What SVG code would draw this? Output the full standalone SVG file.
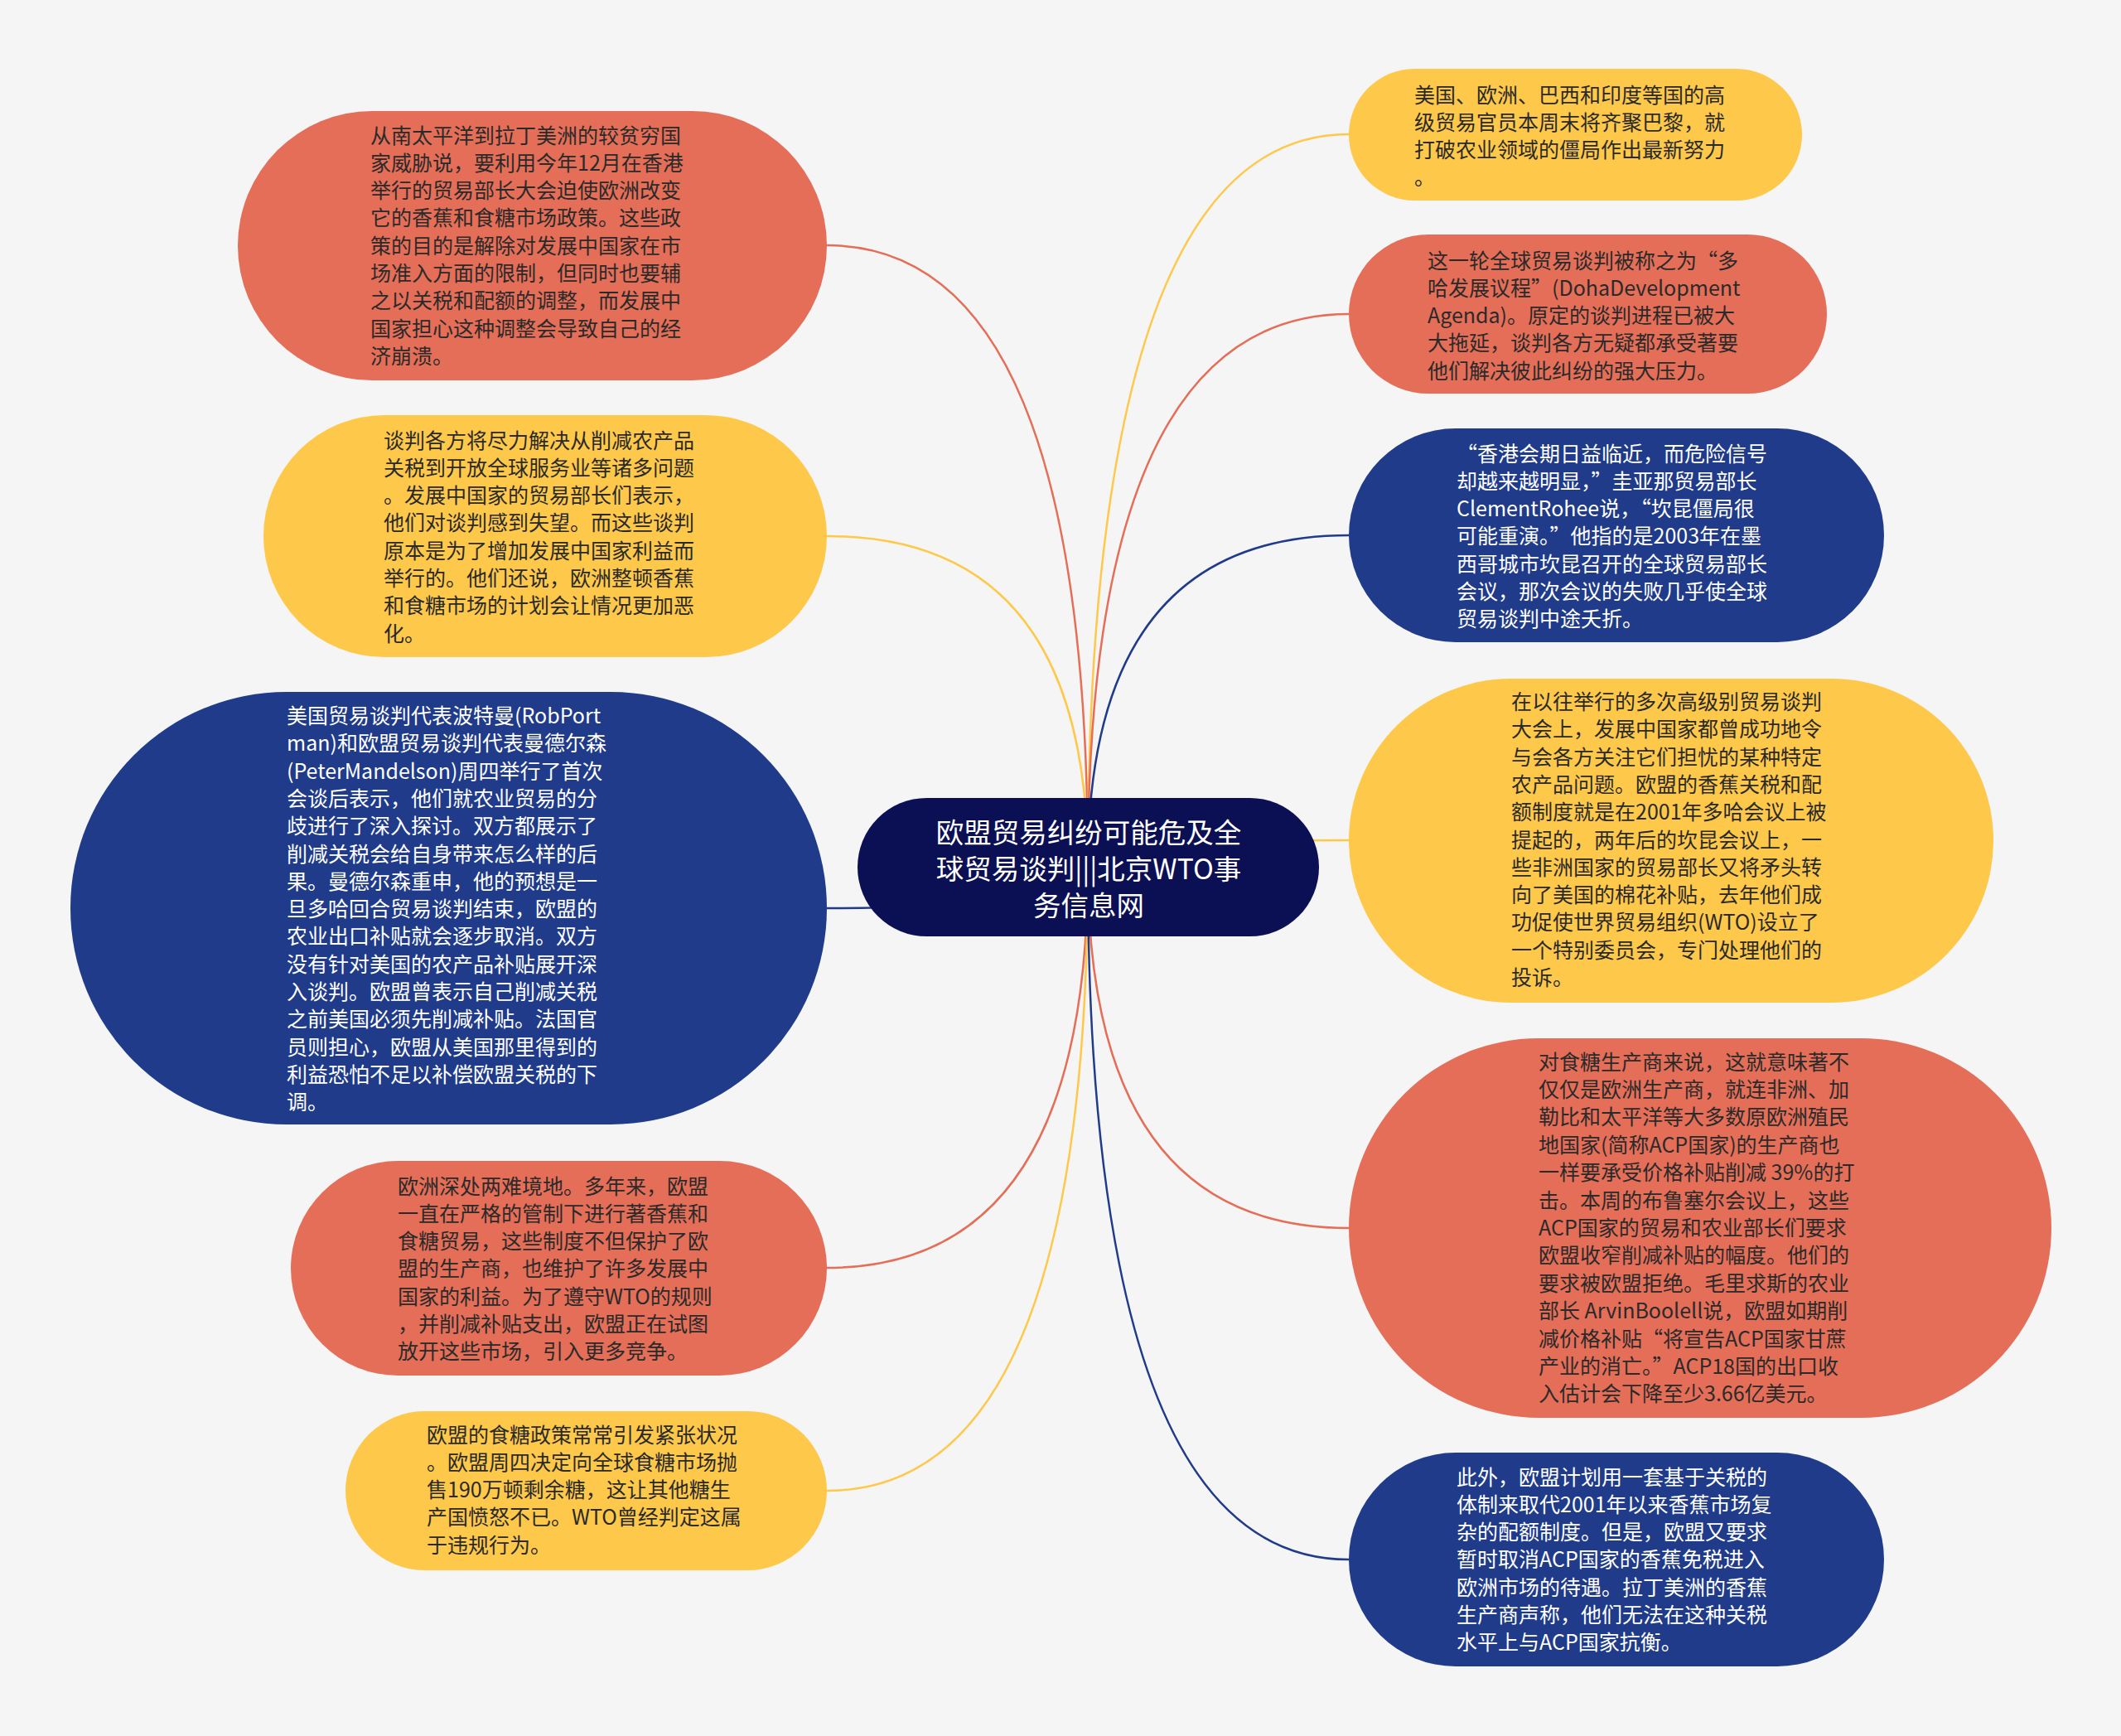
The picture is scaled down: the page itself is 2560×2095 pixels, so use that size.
<svg xmlns="http://www.w3.org/2000/svg" width="2560" height="2095" viewBox="0 0 2560 2095">
<style>
.red{fill:#E46E58}
.yel{fill:#FEC84A}
.blu{fill:#1F3B8A}
.ctr{fill:#0B1055}
.t{font-family:"Noto Sans CJK SC","Microsoft YaHei",sans-serif;font-size:25px}
.dk{fill:#2a2a2a}
.wh{fill:#ffffff}
.ct{font-family:"Noto Sans CJK SC","Microsoft YaHei",sans-serif;font-size:33.5px;fill:#ffffff;text-anchor:middle}
.c{fill:none;stroke-width:2.5}
.cr{stroke:#E46E58}
.cy{stroke:#FEC84A}
.cb{stroke:#1F3B8A}
</style>
<rect x="0" y="0" width="2560" height="2095" fill="#F5F5F5"/>
<g id="connectors">
<path class="c cr" d="M1313,1046 Q1313,296 998,296"/>
<path class="c cy" d="M1313,1046 Q1313,647 998,647"/>
<path class="c cb" d="M1313,1046 Q1313,1096 998,1096"/>
<path class="c cr" d="M1313,1046 Q1313,1530 998,1530"/>
<path class="c cy" d="M1313,1046 Q1313,1799 998,1799"/>
<path class="c cy" d="M1313,1046 Q1313,162 1628,162"/>
<path class="c cr" d="M1313,1046 Q1313,379 1628,379"/>
<path class="c cb" d="M1313,1046 Q1313,646 1628,646"/>
<path class="c cy" d="M1313,1046 Q1313,1014 1628,1014"/>
<path class="c cr" d="M1313,1046 Q1313,1482 1628,1482"/>
<path class="c cb" d="M1313,1046 Q1313,1882 1628,1882"/>
</g>
<g id="center">
<rect class="ctr" x="1035" y="963" width="557" height="167" rx="83.5"/>
<text class="ct"><tspan x="1314" y="1017">欧盟贸易纠纷可能危及全</tspan><tspan x="1314" y="1061">球贸易谈判|||北京WTO事</tspan><tspan x="1314" y="1105">务信息网</tspan></text>
</g>
<g id="node-l1">
<rect class="red" x="287" y="134" width="711" height="325" rx="162.5"/>
<text class="t dk"><tspan x="447" y="172.5">从南太平洋到拉丁美洲的较贫穷国</tspan><tspan x="447" y="205.8">家威胁说，要利用今年12月在香港</tspan><tspan x="447" y="239.1">举行的贸易部长大会迫使欧洲改变</tspan><tspan x="447" y="272.4">它的香蕉和食糖市场政策。这些政</tspan><tspan x="447" y="305.7">策的目的是解除对发展中国家在市</tspan><tspan x="447" y="339">场准入方面的限制，但同时也要辅</tspan><tspan x="447" y="372.3">之以关税和配额的调整，而发展中</tspan><tspan x="447" y="405.6">国家担心这种调整会导致自己的经</tspan><tspan x="447" y="438.9">济崩溃。</tspan></text>
</g>
<g id="node-l2">
<rect class="yel" x="318" y="501" width="680" height="292" rx="146"/>
<text class="t dk"><tspan x="463" y="540.5">谈判各方将尽力解决从削减农产品</tspan><tspan x="463" y="573.8">关税到开放全球服务业等诸多问题</tspan><tspan x="463" y="607.1">。发展中国家的贸易部长们表示，</tspan><tspan x="463" y="640.4">他们对谈判感到失望。而这些谈判</tspan><tspan x="463" y="673.7">原本是为了增加发展中国家利益而</tspan><tspan x="463" y="707">举行的。他们还说，欧洲整顿香蕉</tspan><tspan x="463" y="740.3">和食糖市场的计划会让情况更加恶</tspan><tspan x="463" y="773.6">化。</tspan></text>
</g>
<g id="node-l3">
<rect class="blu" x="85" y="835" width="913" height="522" rx="261"/>
<text class="t wh"><tspan x="346" y="873">美国贸易谈判代表波特曼(RobPort</tspan><tspan x="346" y="906.3">man)和欧盟贸易谈判代表曼德尔森</tspan><tspan x="346" y="939.6">(PeterMandelson)周四举行了首次</tspan><tspan x="346" y="972.9">会谈后表示，他们就农业贸易的分</tspan><tspan x="346" y="1006.2">歧进行了深入探讨。双方都展示了</tspan><tspan x="346" y="1039.5">削减关税会给自身带来怎么样的后</tspan><tspan x="346" y="1072.8">果。曼德尔森重申，他的预想是一</tspan><tspan x="346" y="1106.1">旦多哈回合贸易谈判结束，欧盟的</tspan><tspan x="346" y="1139.4">农业出口补贴就会逐步取消。双方</tspan><tspan x="346" y="1172.7">没有针对美国的农产品补贴展开深</tspan><tspan x="346" y="1206">入谈判。欧盟曾表示自己削减关税</tspan><tspan x="346" y="1239.3">之前美国必须先削减补贴。法国官</tspan><tspan x="346" y="1272.6">员则担心，欧盟从美国那里得到的</tspan><tspan x="346" y="1305.9">利益恐怕不足以补偿欧盟关税的下</tspan><tspan x="346" y="1339.2">调。</tspan></text>
</g>
<g id="node-l4">
<rect class="red" x="351" y="1401" width="647" height="259" rx="129.5"/>
<text class="t dk"><tspan x="480" y="1440.5">欧洲深处两难境地。多年来，欧盟</tspan><tspan x="480" y="1473.8">一直在严格的管制下进行著香蕉和</tspan><tspan x="480" y="1507.1">食糖贸易，这些制度不但保护了欧</tspan><tspan x="480" y="1540.4">盟的生产商，也维护了许多发展中</tspan><tspan x="480" y="1573.7">国家的利益。为了遵守WTO的规则</tspan><tspan x="480" y="1607">，并削减补贴支出，欧盟正在试图</tspan><tspan x="480" y="1640.3">放开这些市场，引入更多竞争。</tspan></text>
</g>
<g id="node-l5">
<rect class="yel" x="417" y="1703" width="581" height="192" rx="96"/>
<text class="t dk"><tspan x="515" y="1740.5">欧盟的食糖政策常常引发紧张状况</tspan><tspan x="515" y="1773.8">。欧盟周四决定向全球食糖市场抛</tspan><tspan x="515" y="1807.1">售190万顿剩余糖，这让其他糖生</tspan><tspan x="515" y="1840.4">产国愤怒不已。WTO曾经判定这属</tspan><tspan x="515" y="1873.7">于违规行为。</tspan></text>
</g>
<g id="node-r1">
<rect class="yel" x="1628" y="83" width="547" height="159" rx="79.5"/>
<text class="t dk"><tspan x="1707" y="123.5">美国、欧洲、巴西和印度等国的高</tspan><tspan x="1707" y="156.8">级贸易官员本周末将齐聚巴黎，就</tspan><tspan x="1707" y="190.1">打破农业领域的僵局作出最新努力</tspan><tspan x="1707" y="223.4">。</tspan></text>
</g>
<g id="node-r2">
<rect class="red" x="1628" y="283" width="577" height="192" rx="96"/>
<text class="t dk"><tspan x="1723" y="323.5">这一轮全球贸易谈判被称之为“多</tspan><tspan x="1723" y="356.8">哈发展议程”(DohaDevelopment</tspan><tspan x="1723" y="390.1">Agenda)。原定的谈判进程已被大</tspan><tspan x="1723" y="423.4">大拖延，谈判各方无疑都承受著要</tspan><tspan x="1723" y="456.7">他们解决彼此纠纷的强大压力。</tspan></text>
</g>
<g id="node-r3">
<rect class="blu" x="1628" y="517" width="646" height="258" rx="129"/>
<text class="t wh"><tspan x="1758" y="556.5">“香港会期日益临近，而危险信号</tspan><tspan x="1758" y="589.8">却越来越明显，”圭亚那贸易部长</tspan><tspan x="1758" y="623.1">ClementRohee说，“坎昆僵局很</tspan><tspan x="1758" y="656.4">可能重演。”他指的是2003年在墨</tspan><tspan x="1758" y="689.7">西哥城市坎昆召开的全球贸易部长</tspan><tspan x="1758" y="723">会议，那次会议的失败几乎使全球</tspan><tspan x="1758" y="756.3">贸易谈判中途夭折。</tspan></text>
</g>
<g id="node-r4">
<rect class="yel" x="1628" y="819" width="778" height="391" rx="195.5"/>
<text class="t dk"><tspan x="1824" y="856">在以往举行的多次高级别贸易谈判</tspan><tspan x="1824" y="889.3">大会上，发展中国家都曾成功地令</tspan><tspan x="1824" y="922.6">与会各方关注它们担忧的某种特定</tspan><tspan x="1824" y="955.9">农产品问题。欧盟的香蕉关税和配</tspan><tspan x="1824" y="989.2">额制度就是在2001年多哈会议上被</tspan><tspan x="1824" y="1022.5">提起的，两年后的坎昆会议上，一</tspan><tspan x="1824" y="1055.8">些非洲国家的贸易部长又将矛头转</tspan><tspan x="1824" y="1089.1">向了美国的棉花补贴，去年他们成</tspan><tspan x="1824" y="1122.4">功促使世界贸易组织(WTO)设立了</tspan><tspan x="1824" y="1155.7">一个特别委员会，专门处理他们的</tspan><tspan x="1824" y="1189">投诉。</tspan></text>
</g>
<g id="node-r5">
<rect class="red" x="1628" y="1253" width="848" height="458" rx="229"/>
<text class="t dk"><tspan x="1857" y="1290.5">对食糖生产商来说，这就意味著不</tspan><tspan x="1857" y="1323.9">仅仅是欧洲生产商，就连非洲、加</tspan><tspan x="1857" y="1357.3">勒比和太平洋等大多数原欧洲殖民</tspan><tspan x="1857" y="1390.7">地国家(简称ACP国家)的生产商也</tspan><tspan x="1857" y="1424.1">一样要承受价格补贴削减 39%的打</tspan><tspan x="1857" y="1457.5">击。本周的布鲁塞尔会议上，这些</tspan><tspan x="1857" y="1490.9">ACP国家的贸易和农业部长们要求</tspan><tspan x="1857" y="1524.3">欧盟收窄削减补贴的幅度。他们的</tspan><tspan x="1857" y="1557.7">要求被欧盟拒绝。毛里求斯的农业</tspan><tspan x="1857" y="1591.1">部长 ArvinBoolell说，欧盟如期削</tspan><tspan x="1857" y="1624.5">减价格补贴“将宣告ACP国家甘蔗</tspan><tspan x="1857" y="1657.9">产业的消亡。”ACP18国的出口收</tspan><tspan x="1857" y="1691.3">入估计会下降至少3.66亿美元。</tspan></text>
</g>
<g id="node-r6">
<rect class="blu" x="1628" y="1753" width="646" height="258" rx="129"/>
<text class="t wh"><tspan x="1758" y="1791.5">此外，欧盟计划用一套基于关税的</tspan><tspan x="1758" y="1824.8">体制来取代2001年以来香蕉市场复</tspan><tspan x="1758" y="1858.1">杂的配额制度。但是，欧盟又要求</tspan><tspan x="1758" y="1891.4">暂时取消ACP国家的香蕉免税进入</tspan><tspan x="1758" y="1924.7">欧洲市场的待遇。拉丁美洲的香蕉</tspan><tspan x="1758" y="1958">生产商声称，他们无法在这种关税</tspan><tspan x="1758" y="1991.3">水平上与ACP国家抗衡。</tspan></text>
</g>
</svg>
